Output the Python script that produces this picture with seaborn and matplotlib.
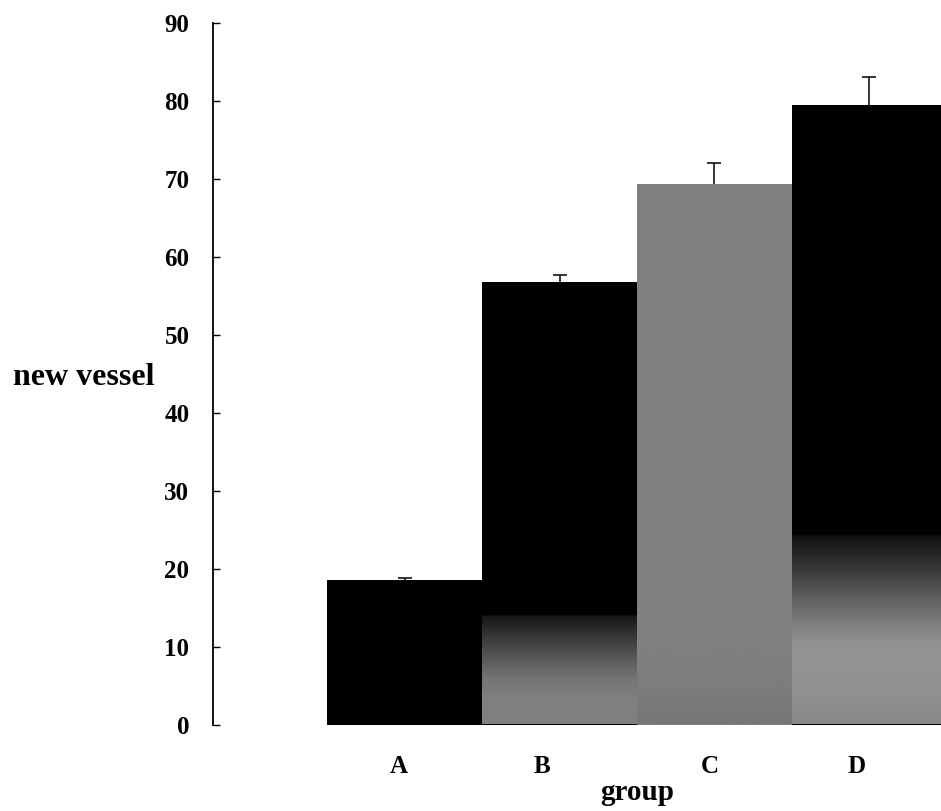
import numpy as np
import pandas as pd
import matplotlib
matplotlib.use("Agg")
import matplotlib.pyplot as plt
import seaborn as sns

# values
groups = ["A", "B", "C", "D"]
new_vessel = [18.5, 56.8, 69.3, 79.5]
error_up = [0.3, 0.9, 2.7, 3.6]
bar_colors = ["#000000", "#000000", "#808080", "#000000"]

# grey fades at the bottom of some bars: (value, grey level) stops
fades = {
    "B": [(0, 0.50), (3.1, 0.50), (5.7, 0.46), (9.2, 0.31), (13.4, 0.11), (13.9, 0.09), (13.95, 0.0)],
    "C": [(0, 0.46), (5, 0.49), (10, 0.50)],
    "D": [(0, 0.53), (3.1, 0.56), (8.3, 0.58), (10.8, 0.56), (12.5, 0.50), (16.0, 0.38),
          (19.8, 0.22), (23.7, 0.08), (24.1, 0.07), (24.15, 0.0)],
}

df = pd.DataFrame({"group": groups, "new vessel": new_vessel})

sns.set_style("ticks")
plt.rcParams["font.family"] = ["Liberation Serif", "DejaVu Serif"]
plt.rcParams["font.weight"] = "bold"
plt.rcParams["text.color"] = "black"
plt.rcParams["axes.labelcolor"] = "black"
plt.rcParams["xtick.color"] = "black"
plt.rcParams["ytick.color"] = "black"

fig = plt.figure(figsize=(9.41, 8.11), dpi=100)
ax = fig.add_axes([213 / 941, 86.5 / 811, 728 / 941, 701.5 / 811])

sns.barplot(data=df, x="group", y="new vessel", hue="group", palette=bar_colors,
            width=1.0, legend=False, ax=ax, saturation=1, edgecolor="none", linewidth=0)

# gradients clipped to the bars
for patch, g in zip(ax.patches, groups):
    if g not in fades:
        continue
    h = patch.get_height()
    yy = np.linspace(0, h, 400)
    sv, sg = zip(*fades[g])
    col = np.interp(yy, sv, sg, right=0.0 if g != "C" else sg[-1])
    img = ax.imshow(col[:, None], extent=[patch.get_x(), patch.get_x() + patch.get_width(), 0, h],
                    origin="lower", cmap="gray", vmin=0, vmax=1, aspect="auto",
                    interpolation="bilinear", zorder=2)
    img.set_clip_path(patch)

centers = [p.get_x() + p.get_width() / 2 for p in ax.patches]
eb = ax.errorbar(centers, new_vessel, yerr=[np.zeros(4), error_up], fmt="none",
                 ecolor="black", elinewidth=1.1, capsize=5, capthick=1.1, zorder=4)
# only the upper caps are shown
for cap in eb[1]:
    if np.allclose(cap.get_ydata(), new_vessel):
        cap.set_visible(False)

ax.set_xlim(-1.239, 3.465)
ax.set_ylim(0, 90)
ax.set_yticks(range(0, 91, 10))
ax.tick_params(axis="y", direction="in", length=5, width=1, pad=17, labelsize=18, colors="black")
# tick labels sit a bit left of the bar centres in the original
ax.set_xticks(np.arange(4) + np.array([-0.04, -0.11, -0.03, -0.08]))
ax.set_xticklabels(groups)
ax.tick_params(axis="x", length=0, pad=22, labelsize=18, colors="black")
for lbl in ax.get_xticklabels() + ax.get_yticklabels():
    lbl.set_fontweight("bold")

ax.set_ylabel("new vessel", rotation=0, fontsize=23, fontweight="bold", ha="right", va="baseline",
              color="black")
ax.yaxis.set_label_coords(-0.0797, 0.484)
ax.set_xlabel("group", fontsize=21, fontweight="bold", va="baseline", color="black")
ax.xaxis.set_label_coords(0.583, -0.107)

sns.despine(ax=ax, bottom=True, right=True, top=True)
ax.spines["left"].set_linewidth(1.3)
ax.spines["left"].set_color("black")

fig.savefig("out.png", dpi=100)
